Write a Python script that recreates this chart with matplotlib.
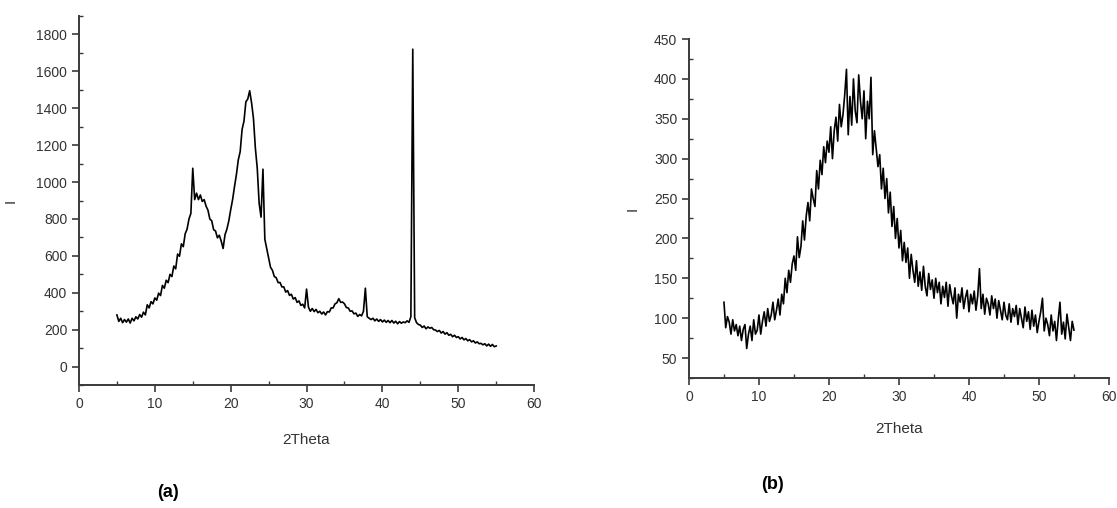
import matplotlib
matplotlib.use("Agg")
import matplotlib.pyplot as plt
from matplotlib.ticker import MultipleLocator
import numpy as np

plt.rcParams['font.family'] = ['Liberation Sans', 'DejaVu Sans']

# 2Theta grid shared by both scans (5..55 deg, 0.25 step)
two_theta = np.arange(5.0, 55.001, 0.25)

# panel (a) intensities, one row per 2 deg
intensity_a = [
    280, 245, 262, 238, 255, 241, 258, 236,
    262, 248, 270, 258, 282, 268, 295, 280,
    335, 318, 352, 340, 372, 360, 398, 385,
    440, 425, 468, 455, 500, 488, 545, 530,
    610, 598, 665, 650, 720, 745, 800, 830,
    1075, 905, 940, 905, 930, 895, 905, 870,
    848, 800, 790, 742, 735, 698, 712, 680,
    640, 715, 745, 790, 850, 905, 975, 1040,
    1120, 1165, 1285, 1330, 1435, 1450, 1495, 1430,
    1345, 1185, 1075, 885, 810, 1070, 690, 640,
    588, 538, 522, 488, 482, 455, 456, 432,
    432, 404, 412, 386, 392, 366, 374, 348,
    356, 332, 338, 318, 420, 322, 300, 315,
    298, 310, 292, 300, 285, 296, 280, 298,
    296, 318, 318, 340, 346, 368, 348, 350,
    340, 320, 318, 300, 302, 286, 290, 272,
    282, 275, 300, 425, 270, 262, 255, 262,
    248, 258, 245, 255, 242, 252, 240, 250,
    238, 250, 236, 246, 232, 244, 235, 242,
    238, 248, 240, 270, 1720, 265, 238, 228,
    225, 212, 220, 205, 215, 208, 212, 200,
    198, 190, 196, 182, 190, 176, 184, 170,
    175, 162, 170, 158, 162, 150, 158, 145,
    152, 140, 146, 134, 140, 128, 134, 124,
    126, 118, 124, 112, 122, 110, 120, 108,
    112,
]

# panel (b) intensities
intensity_b = [
    120, 88, 102, 95, 80, 98, 84, 92,
    78, 90, 72, 86, 92, 62, 80, 90,
    72, 98, 80, 85, 104, 80, 96, 108,
    90, 112, 96, 104, 120, 98, 110, 124,
    104, 130, 118, 150, 132, 160, 145, 168,
    178, 160, 202, 176, 190, 222, 198, 228,
    245, 222, 262, 250, 240, 285, 262, 298,
    280, 315, 295, 322, 308, 340, 300, 335,
    352, 322, 368, 340, 355, 380, 412, 330,
    378, 342, 400, 360, 345, 405, 372, 350,
    385, 325, 372, 350, 402, 305, 335, 312,
    290, 305, 262, 288, 250, 275, 232, 258,
    215, 240, 200, 225, 188, 210, 172, 195,
    170, 188, 150, 180, 160, 145, 172, 140,
    158, 135, 165, 140, 128, 156, 136, 148,
    125, 150, 132, 145, 118, 140, 126, 145,
    115, 142, 128, 118, 138, 100, 130, 120,
    138, 112, 126, 135, 108, 130, 118, 134,
    110, 128, 162, 112, 130, 105, 125, 118,
    104, 128, 112, 124, 100, 122, 110, 98,
    120, 104, 98, 118, 95, 112, 102, 116,
    92, 112, 100, 88, 114, 96, 108, 86,
    110, 90, 104, 82, 96, 108, 125, 84,
    100, 92, 78, 104, 84, 96, 72, 98,
    120, 80, 95, 74, 105, 88, 72, 96,
    85,
]

axis_col = '#3a3a3a'


def style_axes(ax, ymajor, yminor):
    for s in ['top', 'right']:
        ax.spines[s].set_visible(False)
    for s in ['left', 'bottom']:
        ax.spines[s].set_color(axis_col)
        ax.spines[s].set_linewidth(1.4)
    ax.xaxis.set_major_locator(MultipleLocator(10))
    ax.xaxis.set_minor_locator(MultipleLocator(5))
    ax.yaxis.set_major_locator(MultipleLocator(ymajor))
    ax.yaxis.set_minor_locator(MultipleLocator(yminor))
    ax.tick_params(which='major', direction='out', length=5, width=1.2,
                   color=axis_col, labelsize=10, labelcolor='#333333')
    ax.tick_params(which='minor', direction='in', length=3, width=1.0,
                   color=axis_col)


fig = plt.figure(figsize=(11.17, 5.08), dpi=100)

ax1 = fig.add_axes([0.0707, 0.242, 0.4075, 0.7265])
ax1.plot(two_theta, intensity_a, color='black', lw=1.2)
ax1.set_xlim(0, 60)
ax1.set_ylim(-100, 1900)
style_axes(ax1, 200, 100)
ax1.set_xlabel('2Theta', fontsize=11, color='#333333')
ax1.set_ylabel('I', fontsize=11, color='#333333')
ax1.xaxis.set_label_coords(0.5, -0.13)
ax1.yaxis.set_label_coords(-0.134, 0.5)

ax2 = fig.add_axes([0.6168, 0.2559, 0.376, 0.6673])
ax2.plot(two_theta, intensity_b, color='black', lw=1.2)
ax2.set_xlim(0, 60)
ax2.set_ylim(25, 450)
style_axes(ax2, 50, 25)
ax2.set_xlabel('2Theta', fontsize=11, color='#333333')
ax2.set_ylabel('I', fontsize=11, color='#333333')
ax2.xaxis.set_label_coords(0.5, -0.13)
ax2.yaxis.set_label_coords(-0.117, 0.5)

fig.text(0.150, 0.031, '(a)', fontsize=13, fontweight='bold', ha='center', va='center')
fig.text(0.692, 0.047, '(b)', fontsize=13, fontweight='bold', ha='center', va='center')

fig.savefig('out.png', dpi=100)
